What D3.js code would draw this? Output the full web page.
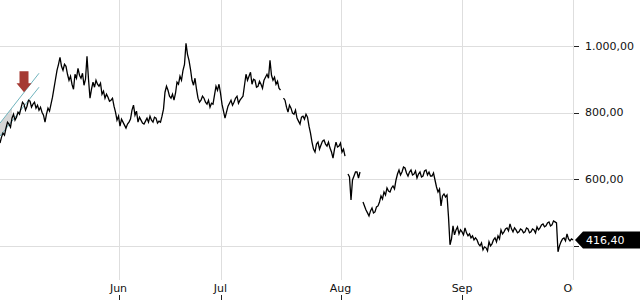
<!DOCTYPE html>
<html>
<head>
<meta charset="utf-8">
<script src="https://cdn.jsdelivr.net/npm/d3@7"></script>
<style>
  html, body { margin: 0; padding: 0; background: #fff; }
  svg { display: block; font-family: 'DejaVu Sans', sans-serif; }
</style>
</head>
<body>
<script>
// price samples, evenly spaced across the visible period (null = gap)
const prices = [
  708, 726, 738, 732, 753, 771, 765, 756, 783, 795, 777, 786, 801, 795, 813, 831,
  825, 807, 819, 837, 834, 816, 825, 831, 813, 822, 807, 816, 801, 792, 771, 795,
  813, 804, 825, 846, 873, 900, 927, 945, 966, 939, 927, 945, 939, 915, 897, 909,
  885, 870, 915, 903, 933, 912, 903, 918, 882, 900, 969, 900, 843, 870, 891, 876,
  897, 885, 879, 888, 855, 864, 843, 855, 846, 834, 837, 843, 819, 801, 777, 789,
  759, 780, 771, 762, 753, 765, 771, 780, 807, 822, 792, 804, 771, 786, 777, 768,
  765, 774, 783, 771, 789, 777, 771, 786, 783, 768, 774, 771, 789, 810, 861, 879,
  867, 849, 843, 855, 837, 858, 891, 885, 909, 897, 927, 945, 1008, 975, 957, 930,
  897, 882, 903, 870, 843, 831, 837, 849, 843, 831, 825, 837, 816, 828, 825, 852,
  879, 867, 885, 858, 825, 804, 783, 801, 819, 828, 837, 822, 831, 843, 849, 828,
  837, 843, 849, 882, 915, 897, 909, 921, 885, 900, 897, 876, 879, 894, 885, 873,
  897, 906, 915, 903, 957, 912, 897, 906, 885, 894, 873, 867, null, 843, 837, 816,
  801, 822, 813, 798, 795, 807, 783, 774, 765, 786, 789, 780, 795, 786, 759, 738,
  711, 690, 681, 705, 711, 690, 702, 714, 717, 705, 699, 711, 693, 681, 663, 690,
  711, 696, 699, 708, 681, 690, 669, null, 615, 606, 537, 597, 609, 621, 621, 603,
  621, null, 531, 519, 507, 498, 489, 504, 513, 498, 501, 516, 519, 531, 549, 540,
  561, 552, 573, 564, 561, 573, 579, 570, 597, 615, 627, 612, 621, 636, 633, 618,
  609, 621, 627, 612, 615, 624, 603, 615, 621, 606, 609, 624, 627, 612, 621, 609,
  609, 618, 597, 576, 561, 570, 519, 549, 555, 546, 552, 486, 402, 420, 459, 432,
  447, 456, 435, 447, 441, 432, 453, 438, 429, 435, 423, 429, 417, 423, 417, 405,
  399, 408, 387, 396, 393, 384, 411, 399, 405, 417, 423, 411, 429, 420, 447, 435,
  441, 450, 453, 444, 465, 450, 441, 453, 447, 438, 441, 450, 447, 438, 441, 453,
  450, 438, 441, 450, 447, 438, 456, 447, 453, 462, 465, 456, 459, 468, 471, 459,
  462, 474, 471, 468, 381, 399, 411, 420, 423, 414, 435, 420, 414, 420, 416.4
]
const monthLabels = ['Jun', 'Jul', 'Aug', 'Sep', 'Oct']
const monthStarts = [79, 147, 227, 308, 382]
const yTicks = [400, 600, 800, 1000]
const lastPrice = 416.40

// drawn channel + signal arrow on the left
const channelIdx = [0, 26]
const channelUpper = [768, 918]
const channelLower = [729, 876]
const shadeIdx = [0, 8]
const signalIdx = 16
const signalValue = 861

const width = 640
const height = 300
const plotWidth = 573
const plotHeight = 280

const locale = d3.formatLocale({ decimal: ',', thousands: '.', grouping: [3], currency: ['', ''] })
const fmt = locale.format(',.2f')

const svg = d3.select('body').append('svg')
  .attr('width', width)
  .attr('height', height)

const x = d3.scaleLinear()
  .domain([0, prices.length - 1])
  .range([0, plotWidth])

const y = d3.scaleLinear()
  .domain([400, 1000])
  .range([245.5, 46])

const ly = y(lastPrice)

svg.append('defs').append('clipPath')
  .attr('id', 'plotClip')
  .append('rect')
  .attr('x', 0).attr('y', 0)
  .attr('width', plotWidth).attr('height', height)

// grid
const grid = svg.append('g').attr('stroke', '#dedede').attr('stroke-width', 1)
grid.selectAll('line.h')
  .data(yTicks)
  .enter()
  .append('line')
  .attr('class', 'h')
  .attr('x1', 0)
  .attr('x2', plotWidth)
  .attr('y1', d => Math.round(y(d)) + 0.5)
  .attr('y2', d => Math.round(y(d)) + 0.5)

grid.selectAll('line.v')
  .data(monthStarts)
  .enter()
  .append('line')
  .attr('class', 'v')
  .attr('x1', d => Math.round(x(d)) + 0.5)
  .attr('x2', d => Math.round(x(d)) + 0.5)
  .attr('y1', 0)
  .attr('y2', plotHeight)

// x axis labels
const xAxis = svg.append('g').attr('clip-path', 'url(#plotClip)')
xAxis.selectAll('text')
  .data(monthStarts)
  .enter()
  .append('text')
  .attr('x', d => x(d))
  .attr('y', 292)
  .attr('text-anchor', 'middle')
  .attr('font-size', 11)
  .attr('fill', '#111')
  .text((d, i) => monthLabels[i])

xAxis.selectAll('line')
  .data(monthStarts)
  .enter()
  .append('line')
  .attr('x1', d => Math.round(x(d)) + 0.5)
  .attr('x2', d => Math.round(x(d)) + 0.5)
  .attr('y1', 295)
  .attr('y2', 300)
  .attr('stroke', '#222')

// y axis on the right
const yAxis = svg.append('g')
yAxis.selectAll('line')
  .data(yTicks)
  .enter()
  .append('line')
  .attr('x1', plotWidth + 1)
  .attr('x2', plotWidth + 6)
  .attr('y1', d => Math.round(y(d)) + 0.5)
  .attr('y2', d => Math.round(y(d)) + 0.5)
  .attr('stroke', '#222')

// labels under the last-price marker are hidden
yAxis.selectAll('text')
  .data(yTicks.filter(d => Math.abs(y(d) - ly) > 12))
  .enter()
  .append('text')
  .attr('x', plotWidth + 12)
  .attr('y', d => y(d))
  .attr('dy', '0.35em')
  .attr('font-size', 11)
  .attr('fill', '#111')
  .text(d => fmt(d))

// channel annotation
const shadeTop = d3.scaleLinear().domain(channelIdx).range(channelUpper)
const shadeBot = d3.scaleLinear().domain(channelIdx).range(channelLower)
svg.append('path')
  .attr('d', d3.area()
    .x(d => x(d))
    .y0(d => y(shadeBot(d)))
    .y1(d => y(shadeTop(d)))([shadeIdx[0], shadeIdx[1]]))
  .attr('fill', '#d6d6d6')

const channel = svg.append('g')
  .attr('stroke', '#6fb3bd')
  .attr('stroke-width', 1)
;[channelUpper, channelLower].forEach(vals => {
  channel.append('line')
    .attr('x1', x(channelIdx[0]))
    .attr('y1', y(vals[0]))
    .attr('x2', x(channelIdx[1]))
    .attr('y2', y(vals[1]))
})

// price line
const priceLine = d3.line()
  .defined(d => d != null)
  .x((d, i) => x(i))
  .y(d => y(d))

svg.append('path')
  .attr('d', priceLine(prices))
  .attr('fill', 'none')
  .attr('stroke', '#000')
  .attr('stroke-width', 1.3)

// signal arrow
svg.append('path')
  .attr('transform', `translate(${x(signalIdx)}, ${y(signalValue)})`)
  .attr('d', 'M0,0 L-7.5,-9 L-4.5,-9 L-4.5,-21 L4.5,-21 L4.5,-9 L7.5,-9 Z')
  .attr('fill', '#a53a33')

// last price marker
const tip = plotWidth + 2
svg.append('path')
  .attr('d', `M${tip},${ly} L${tip + 8},${ly - 8.5} L${width},${ly - 8.5} L${width},${ly + 8.5} L${tip + 8},${ly + 8.5} Z`)
  .attr('fill', '#000')

svg.append('text')
  .attr('x', tip + 11)
  .attr('y', ly)
  .attr('dy', '0.36em')
  .attr('font-size', 11)
  .attr('fill', '#fff')
  .text(fmt(lastPrice))
</script>
</body>
</html>
